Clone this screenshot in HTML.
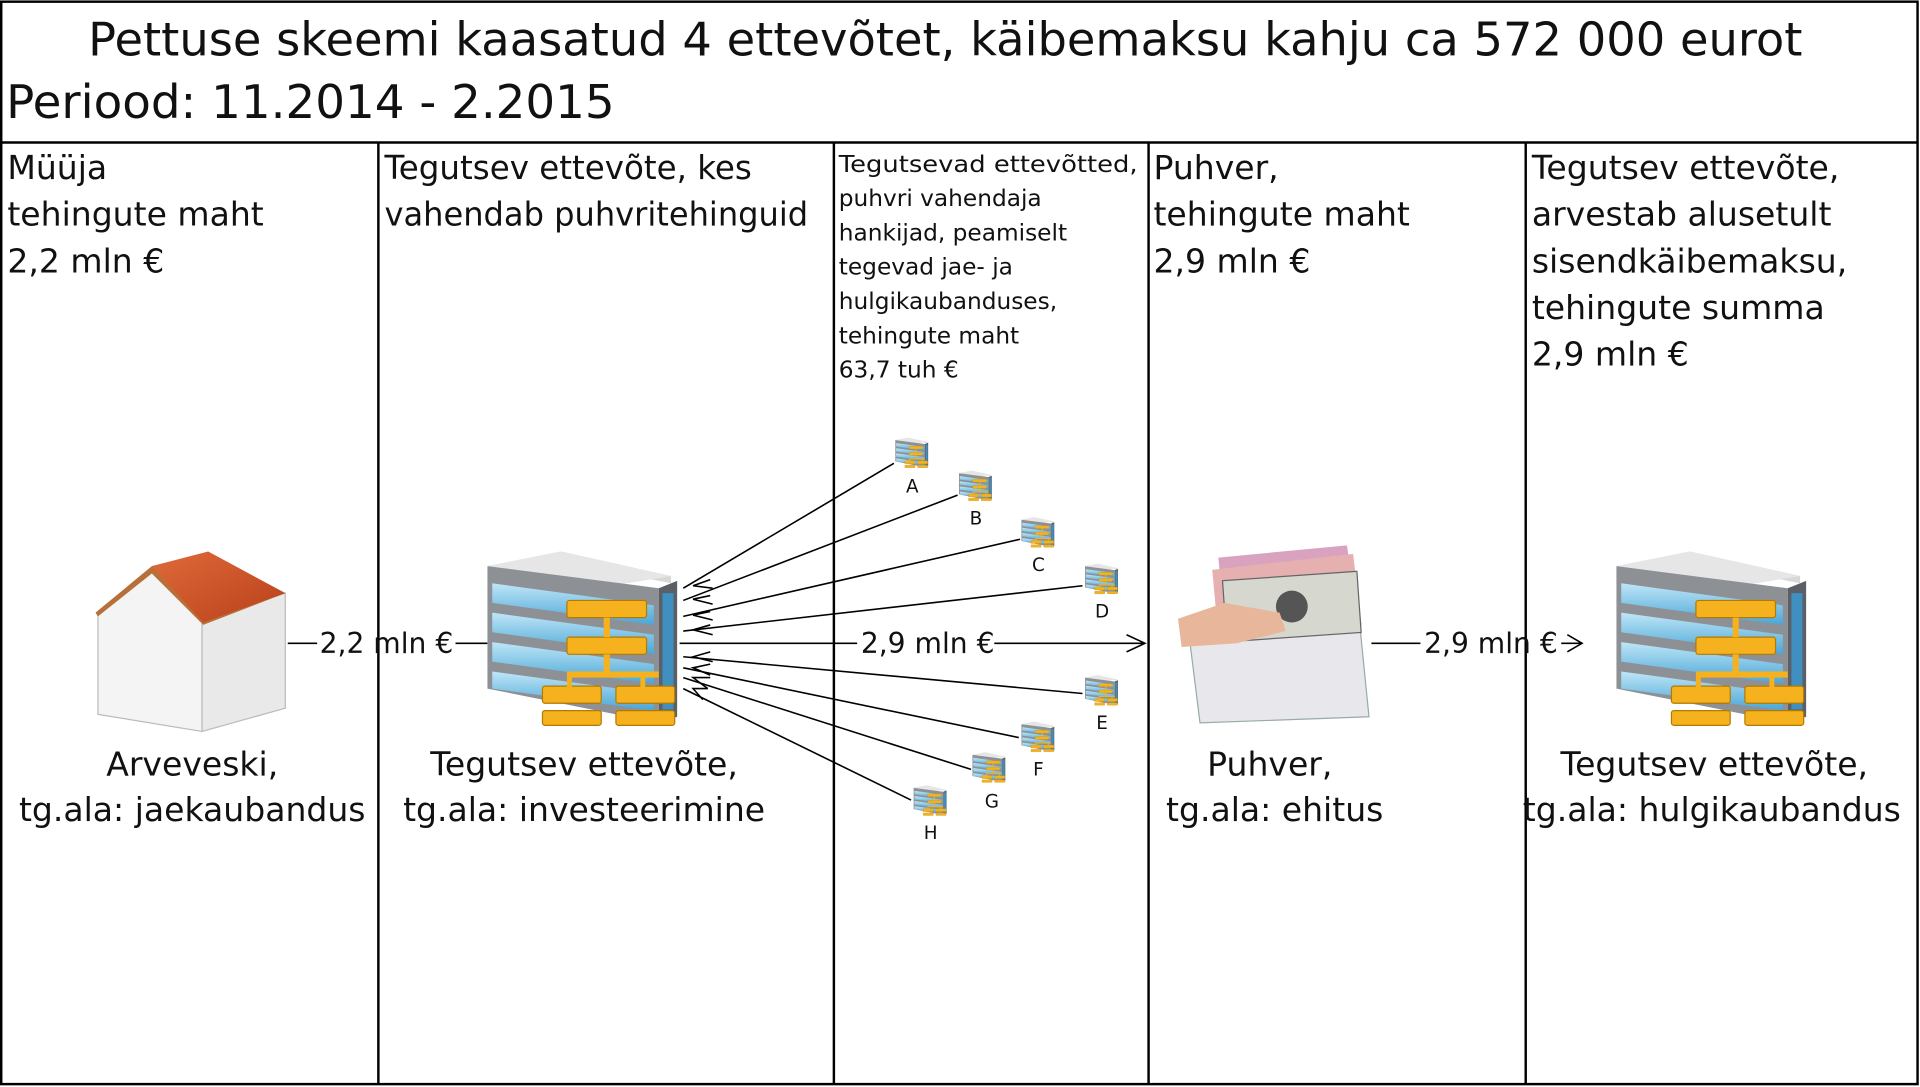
<!DOCTYPE html>
<html><head><meta charset="utf-8"><style>html,body{margin:0;padding:0;background:#fff}svg{display:block}text{font-family:"DejaVu Sans","Liberation Sans",sans-serif;fill:#111}</style></head>
<body>
<svg width="1920" height="1087" viewBox="0 0 1568 887" xmlns="http://www.w3.org/2000/svg">
<defs>
<linearGradient id="win" x1="0" y1="0" x2="0" y2="1"><stop offset="0" stop-color="#bfe6f7"/><stop offset="1" stop-color="#4aa6d6"/></linearGradient>
<linearGradient id="roof" x1="0" y1="0" x2="1" y2="1"><stop offset="0" stop-color="#e06a3a"/><stop offset="1" stop-color="#b8401a"/></linearGradient>
<symbol id="bld" viewBox="0 0 160 150">
<polygon points="0,12 60,0 150,20 150,26 90,14 0,28" fill="#d8d8d8"/>
<polygon points="0,12 90,30 150,20 60,0" fill="#e6e6e6"/>
<polygon points="0,12 140,30 140,140 0,112" fill="#8d9196"/>
<polygon points="140,30 155,24 155,135 140,140" fill="#5b6066"/>
<polygon points="4,26 136,44 136,60 4,42" fill="url(#win)"/>
<polygon points="4,50 136,68 136,84 4,66" fill="url(#win)"/>
<polygon points="4,74 136,92 136,108 4,90" fill="url(#win)"/>
<polygon points="4,98 136,116 136,130 4,112" fill="url(#win)"/>
<rect x="143" y="34" width="9" height="95" fill="#3f8fc0"/>
<rect x="65" y="40" width="65" height="14" rx="2" fill="#f5b21e" stroke="#b37a00"/>
<rect x="65" y="70" width="65" height="14" rx="2" fill="#f5b21e" stroke="#b37a00"/>
<rect x="95" y="54" width="5" height="16" fill="#f5b21e"/>
<rect x="95" y="84" width="5" height="18" fill="#f5b21e"/>
<rect x="65" y="98" width="75" height="5" fill="#f5b21e"/>
<rect x="45" y="110" width="48" height="14" rx="2" fill="#f5b21e" stroke="#b37a00"/>
<rect x="105" y="110" width="48" height="14" rx="2" fill="#f5b21e" stroke="#b37a00"/>
<rect x="45" y="130" width="48" height="12" rx="2" fill="#f5b21e" stroke="#b37a00"/>
<rect x="105" y="130" width="48" height="12" rx="2" fill="#f5b21e" stroke="#b37a00"/>
<rect x="65" y="103" width="4" height="8" fill="#f5b21e"/><rect x="125" y="103" width="4" height="8" fill="#f5b21e"/>
</symbol>
</defs>
<rect x="1" y="1" width="1565" height="884" fill="#fff" stroke="#000" stroke-width="2"/>
<line x1="1" y1="116" x2="1566" y2="116" stroke="#000" stroke-width="2"/>
<g stroke="#000" stroke-width="2">
<line x1="309" y1="116" x2="309" y2="885"/><line x1="681" y1="116" x2="681" y2="885"/>
<line x1="938" y1="116" x2="938" y2="885"/><line x1="1246" y1="116" x2="1246" y2="885"/>
</g>
<text x="72" y="45" font-size="38" textLength="1400" lengthAdjust="spacingAndGlyphs">Pettuse skeemi kaasatud 4 ettevõtet, käibemaksu kahju ca 572 000 eurot</text>
<text x="5" y="96" font-size="38" textLength="497" lengthAdjust="spacingAndGlyphs">Periood: 11.2014 - 2.2015</text>
<g font-size="27">
<text x="6" y="146">Müüja</text><text x="6" y="184">tehingute maht</text><text x="6" y="222">2,2 mln €</text>
<text x="314" y="146" textLength="300" lengthAdjust="spacingAndGlyphs">Tegutsev ettevõte, kes</text>
<text x="314" y="184" textLength="346" lengthAdjust="spacingAndGlyphs">vahendab puhvritehinguid</text>
<text x="942" y="146">Puhver,</text><text x="942" y="184">tehingute maht</text><text x="942" y="222">2,9 mln €</text>
<text x="1251" y="146">Tegutsev ettevõte,</text><text x="1251" y="184">arvestab alusetult</text>
<text x="1251" y="222">sisendkäibemaksu,</text><text x="1251" y="260">tehingute summa</text><text x="1251" y="298">2,9 mln €</text>
</g>
<g font-size="19">
<text x="685" y="140" textLength="244" lengthAdjust="spacingAndGlyphs">Tegutsevad ettevõtted,</text>
<text x="685" y="168">puhvri vahendaja</text><text x="685" y="196">hankijad, peamiselt</text>
<text x="685" y="224">tegevad jae- ja</text><text x="685" y="252">hulgikaubanduses,</text>
<text x="685" y="280">tehingute maht</text><text x="685" y="308">63,7 tuh €</text>
</g>
<!-- house -->
<polygon points="80,500 124,464 165,507 165,597 80,583" fill="#f4f4f4" stroke="#bbb"/>
<polygon points="165,507 233,484 233,578 165,597" fill="#e9e9e9" stroke="#bbb"/>
<polygon points="78,500 124,462 168,452 233,484 166,510 124,468 80,503" fill="#b8703a"/>
<polygon points="124,462 170,450 233,484 166,508" fill="url(#roof)"/>
<!-- buildings -->
<use href="#bld" x="398" y="450" width="160" height="150"/>
<use href="#bld" x="1320" y="450" width="160" height="150"/>
<!-- money -->
<g>
<polygon points="970,510 1110,505 1118,585 980,590" fill="#e8e8ec" stroke="#9aa"/>
<polygon points="995,455 1100,445 1108,500 1000,510" fill="#d9a3c0"/>
<polygon points="990,465 1105,452 1112,510 995,520" fill="#e7b0b0"/>
<rect x="1000" y="470" width="110" height="50" fill="#d6d8cf" stroke="#666" transform="rotate(-4 1055 495)"/>
<circle cx="1055" cy="495" r="13" fill="#555"/>
<polygon points="962,505 1000,492 1045,500 1050,515 1010,525 965,528" fill="#e8b69a"/>
</g>
<g stroke="#000" stroke-width="1.3" fill="none">
<line x1="235" y1="525" x2="259" y2="525"/><line x1="372" y1="525" x2="398" y2="525"/>
<line x1="555" y1="525" x2="700" y2="525"/><line x1="812" y1="525" x2="935" y2="525"/>
<polyline points="920,518 935,525 920,532"/>
<line x1="1120" y1="525" x2="1160" y2="525"/><line x1="1275" y1="525" x2="1292" y2="525"/>
<polyline points="1280,518 1292,525 1280,532"/>
</g>
<g font-size="23">
<text x="261" y="533">2,2 mln €</text><text x="703" y="533">2,9 mln €</text><text x="1163" y="533">2,9 mln €</text>
</g>
<g stroke="#000" stroke-width="1.3" fill="none">
<line x1="730" y1="378" x2="558" y2="480"/><line x1="782" y1="404" x2="558" y2="490"/>
<line x1="833" y1="440" x2="558" y2="503"/><line x1="884" y1="478" x2="558" y2="515"/>
<line x1="884" y1="566" x2="558" y2="536"/><line x1="832" y1="602" x2="558" y2="545"/>
<line x1="793" y1="628" x2="558" y2="553"/><line x1="744" y1="653" x2="558" y2="562"/>
<polyline points="580,473 566,478 582,480"/><polyline points="580,486 566,489 582,493"/>
<polyline points="580,499 566,502 582,506"/><polyline points="580,510 566,514 582,518"/>
<polyline points="580,532 566,536 582,540"/><polyline points="580,542 566,545 580,551"/>
<polyline points="580,553 566,553 578,562"/><polyline points="578,562 566,562 574,571"/>
</g>
<use href="#bld" x="731" y="357" width="28" height="26"/>
<use href="#bld" x="783" y="384" width="28" height="26"/>
<use href="#bld" x="834" y="422" width="28" height="26"/>
<use href="#bld" x="886" y="460" width="28" height="26"/>
<use href="#bld" x="886" y="551" width="28" height="26"/>
<use href="#bld" x="834" y="589" width="28" height="26"/>
<use href="#bld" x="794" y="614" width="28" height="26"/>
<use href="#bld" x="746" y="641" width="28" height="26"/>
<g font-size="15" text-anchor="middle">
<text x="745" y="402">A</text><text x="797" y="428">B</text><text x="848" y="466">C</text><text x="900" y="504">D</text>
<text x="900" y="595">E</text><text x="848" y="633">F</text><text x="810" y="659">G</text><text x="760" y="685">H</text>
</g>
<g font-size="27" text-anchor="middle">
<text x="157" y="633">Arveveski,</text><text x="157" y="670">tg.ala: jaekaubandus</text>
<text x="477" y="633">Tegutsev ettevõte,</text><text x="477" y="670">tg.ala: investeerimine</text>
<text x="1037" y="633">Puhver,</text><text x="1041" y="670">tg.ala: ehitus</text>
<text x="1400" y="633">Tegutsev ettevõte,</text><text x="1398" y="670">tg.ala: hulgikaubandus</text>
</g>
</svg>
</body></html>
